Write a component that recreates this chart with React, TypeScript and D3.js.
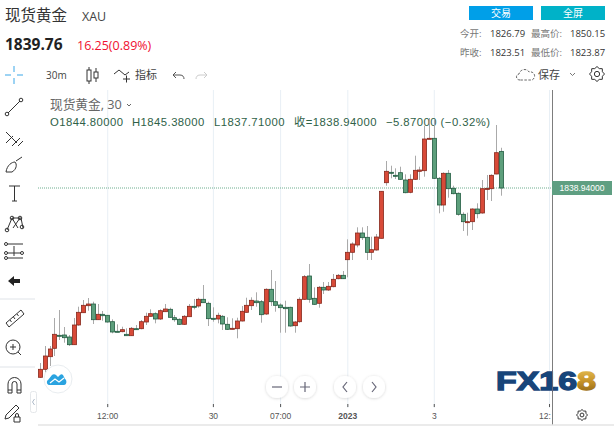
import React from "react";
import * as d3 from "d3";

const opens = [1808.65,1809.93,1811.95,1813.29,1815.37,1815.42,1815.1,1813.87,1817.02,1818.99,1820.11,1820.38,1817.87,1818.73,1818.57,1817.55,1816.01,1815.95,1815.53,1815.31,1816.43,1816.43,1817.5,1818.41,1818.83,1817.98,1819.15,1819.53,1818.19,1817.93,1817.13,1818.35,1820.01,1820.06,1821.13,1820.49,1818.09,1817.98,1818.41,1817.13,1816.33,1816.43,1817.66,1819.05,1820.11,1820.86,1820.75,1818.78,1822.73,1820.75,1820.22,1819.85,1819.85,1816.91,1817.55,1821.13,1824.86,1821.29,1820.49,1823.05,1822.62,1823.15,1824.43,1824.97,1827.47,1828.65,1829.82,1831.74,1831.05,1828.65,1829.02,1830.89,1839.79,1841.45,1840.97,1841.39,1840.22,1838.25,1840.33,1841.61,1841.71,1846.78,1846.89,1840.49,1836.22,1841.29,1838.89,1838.09,1834.73,1833.39,1833.55,1835.58,1834.94,1838.8,1838.83,1841.18,1844.8];
const highs = [1810.94,1813.66,1813.66,1818.14,1819.42,1816.7,1815.42,1818.14,1819.95,1821.02,1821.34,1820.75,1820.38,1819.26,1818.62,1817.93,1817.13,1816.75,1816.49,1816.7,1817.02,1817.82,1818.99,1819.53,1819.05,1819.53,1820.38,1819.79,1818.62,1818.09,1818.62,1820.38,1821.18,1821.39,1823.42,1820.75,1819.85,1818.99,1818.62,1818.25,1818.09,1818.19,1820.06,1821.39,1821.45,1822.25,1821.02,1822.89,1825.82,1824.06,1820.49,1820.91,1819.95,1817.66,1821.45,1825.02,1826.78,1823.05,1823.26,1823.9,1823.9,1825.18,1825.18,1825.66,1830.73,1830.25,1832.65,1832.65,1832.86,1831.15,1831.58,1838.46,1843.26,1842.51,1842.09,1842.35,1841.13,1841.13,1844.11,1842.35,1848.91,1850.14,1849.82,1840.7,1841.45,1841.82,1839.31,1838.25,1835.05,1834.99,1835.69,1836.49,1840.22,1841.02,1841.13,1849.02,1845.38];
const lows = [1808.54,1808.86,1810.46,1812.06,1814.62,1814.19,1813.66,1813.82,1816.9,1818.99,1819.31,1817.18,1817.82,1817.71,1817.39,1815.69,1815.88,1815.85,1815.29,1815.26,1816.31,1816.33,1817.02,1818.35,1817.29,1817.82,1819.15,1818.19,1817.55,1817.02,1817.02,1818.35,1819.53,1819.79,1820.59,1816.86,1817.55,1817.29,1816.22,1816.22,1816.33,1814.89,1817.58,1818.99,1819.42,1819.95,1817.39,1818.62,1820.06,1819.15,1815.79,1815.79,1816.75,1815.79,1817.39,1821.02,1820.59,1820.22,1819.79,1821.98,1822.46,1823.05,1824.33,1824.38,1824.65,1827.42,1829.45,1830.62,1827.42,1827.42,1828.91,1830.86,1839.31,1840.49,1840.38,1840.22,1838.09,1838.09,1840.22,1840.22,1840.75,1846.78,1840.38,1834.89,1835.15,1837.39,1837.93,1834.51,1832.06,1831.31,1832.22,1834.09,1834.83,1837.02,1836.86,1841.13,1837.71];
const closes = [1809.93,1812.06,1813.18,1815.53,1815.28,1814.99,1813.87,1817.02,1819.05,1820.17,1820.38,1817.87,1818.73,1818.51,1817.5,1815.9,1815.9,1816.27,1815.31,1816.49,1816.33,1817.55,1818.41,1818.83,1817.98,1819.31,1819.58,1818.25,1817.87,1817.13,1818.41,1820.01,1819.9,1821.13,1820.59,1818.03,1817.98,1818.57,1817.18,1816.33,1816.49,1817.66,1819.21,1820.17,1820.97,1820.59,1818.67,1822.73,1820.75,1820.17,1819.79,1819.63,1816.86,1817.5,1821.13,1824.75,1821.13,1820.33,1823.05,1822.62,1823.21,1824.33,1824.97,1824.43,1828.65,1829.98,1831.74,1830.99,1828.65,1829.07,1831.1,1838.41,1841.61,1841.34,1840.86,1840.33,1838.19,1840.33,1841.77,1841.82,1846.78,1846.89,1840.49,1836.22,1841.29,1838.83,1838.03,1834.73,1833.55,1833.55,1835.58,1834.83,1838.83,1838.88,1840.97,1844.59,1838.94];

const title = "现货黄金";
const symbol = "XAU";
const lastPrice = "1839.76";
const change = "16.25(0.89%)";
const statRows = [["今开:", "1826.79", "最高价:", "1850.15"], ["昨收:", "1823.51", "最低价:", "1823.87"]];
const tickIndex = [14, 36, 50, 64, 82, 106];
const tickLabels = ["12:00", "30", "07:00", "2023", "3", "12:"];
const legendOHLC = [["O1844.80000", 50], ["H1845.38000", 132], ["L1837.71000", 214], ["收=1838.94000", 294], ["−5.87000 (−0.32%)", 386]] as const;
const lastClose = 1838.94;

const x = d3.scaleLinear().domain([0, 96]).range([40, 501]);
const y = d3.scaleLinear().domain([1869.02, 1809.02]).range([0, 375]);

const W = 614, H = 427;
const sans = "'Liberation Sans','Noto Sans CJK SC',sans-serif";
const ui = "'Open Sans','Noto Sans CJK SC',sans-serif";
const upFill = "#d84a38", upLine = "#87281c", dnFill = "#5d9f7c", dnLine = "#235c42";
const ink = "#333";

const Btn = ({ cx, children }: { cx: number; children: React.ReactNode }) => (
  <g transform={`translate(${cx},387)`}>
    <circle r={11} fill="#fff" filter="url(#sh)" />
    {children}
  </g>
);

const Gear = ({ cx, cy, r }: { cx: number; cy: number; r: number }) => {
  const pts = d3.range(16).map((i) => {
    const a = (i / 16) * 2 * Math.PI;
    const rr = i % 2 === 0 ? r : r * 0.78;
    return [cx + rr * Math.cos(a), cy + rr * Math.sin(a)] as [number, number];
  });
  return (
    <g fill="none" stroke={ink} strokeWidth={1}>
      <path d={d3.line().curve(d3.curveLinearClosed)(pts) as string} />
      <circle cx={cx} cy={cy} r={r * 0.35} />
    </g>
  );
};

export default function App() {
  const candles = opens.map((o, i) => ({ o, h: highs[i], l: lows[i], c: closes[i], i }));
  return (
    <svg width={W} height={H} style={{ position: "absolute", left: 0, top: 0, background: "#fff" }} fontFamily={sans}>
      <defs>
        <filter id="sh" x="-40%" y="-40%" width="180%" height="180%">
          <feDropShadow dx="0" dy="0.5" stdDeviation="1.5" floodColor="#000" floodOpacity="0.18" />
        </filter>
        <linearGradient id="gold" x1="0" y1="0" x2="0" y2="1">
          <stop offset="0" stopColor="#e8c35a" />
          <stop offset="0.5" stopColor="#c9962c" />
          <stop offset="1" stopColor="#8c6212" />
        </linearGradient>
      </defs>

      {/* header */}
      <text x={5} y={21} fontSize={15.5} fill="#333" fontFamily={ui}>{title}</text>
      <text x={82} y={21} fontSize={12.5} fill="#444" fontFamily={ui}>{symbol}</text>
      <text x={5} y={50} fontSize={15.5} fontWeight={700} fill="#222" fontFamily={ui}>{lastPrice}</text>
      <text x={77} y={50} fontSize={12.5} fill="#f01030" fontFamily={ui}>{change}</text>

      <rect x={469} y={6} width={64} height={14} fill="#009fe8" />
      <rect x={541} y={6} width={64} height={14} fill="#00b2c8" />
      <text x={501} y={17} fontSize={10} fill="#fff" textAnchor="middle" fontFamily={ui}>交易</text>
      <text x={573} y={17} fontSize={10} fill="#fff" textAnchor="middle" fontFamily={ui}>全屏</text>
      {statRows.map((r, k) => (
        <g key={k} fontSize={9.5} fontFamily={ui}>
          <text x={460} y={37 + k * 19} fill="#777">{r[0]}</text>
          <text x={490} y={37 + k * 19} fill="#333">{r[1]}</text>
          <text x={531} y={37 + k * 19} fill="#777">{r[2]}</text>
          <text x={570} y={37 + k * 19} fill="#333">{r[3]}</text>
        </g>
      ))}

      {/* top toolbar */}
      <text x={46} y={79} fontSize={10} fill="#444" fontFamily={ui}>30m</text>
      <g stroke="#333" fill="none" strokeWidth={1}>
        <rect x={87} y={70} width={4} height={11} />
        <line x1={89} y1={67} x2={89} y2={70} /><line x1={89} y1={81} x2={89} y2={84} />
        <rect x={94} y={72} width={4} height={6} />
        <line x1={96} y1={68} x2={96} y2={72} /><line x1={96} y1={78} x2={96} y2={82} />
        <path d="M114 74l5-4 6 5 4-3" />
        <path d="M123 79h7M126.500 75.500v7" />
      </g>
      <text x={135} y={79} fontSize={11} fill="#444" fontFamily={ui}>指标</text>
      <path d="M176 72l-3 3 3 3M173 75h7c3 0 4 2 4 4" fill="none" stroke="#555" strokeWidth={1} />
      <path d="M204 72l3 3-3 3M207 75h-7c-3 0-4 2-4 4" fill="none" stroke="#ccc" strokeWidth={1} />
      <path d="M520 80c-4 0-5-5-1-6 1-5 8-6 10-2 4-1 7 3 5 6-1 2-2 2-3 2z" fill="none" stroke="#555" strokeWidth={0.9} strokeDasharray="2.5 1.5" />
      <text x={538} y={79} fontSize={11} fill="#444" fontFamily={ui}>保存</text>
      <path d="M570 73l2.500 2.500 2.500-2.500" fill="none" stroke="#555" strokeWidth={0.8} />
      <Gear cx={597} cy={74} r={7.5} />

      {/* grid */}
      {tickIndex.map((t) => (
        <line key={t} x1={x(t) + 0.5} x2={x(t) + 0.5} y1={90} y2={408} stroke="#e8eff5" strokeWidth={1} />
      ))}
      <line x1={38} x2={552} y1={y(lastClose)} y2={y(lastClose)} stroke="#6fae90" strokeWidth={1} strokeDasharray="1 1" />

      {/* legend */}
      <text x={50} y={109} fontSize={12.700} fill="#666" fontFamily={ui}>{title}, 30</text>
      <path d="M127 104l2 2 2-2" fill="none" stroke="#555" strokeWidth={0.9} />
      {legendOHLC.map(([t, px]) => (
        <text key={t} x={px} y={126} fontSize={11.300} fill="#2f6148" letterSpacing={0.45} fontFamily={sans}>{t}</text>
      ))}

      {/* candles */}
      {candles.map((d) => {
        const up = d.c >= d.o;
        const top = y(Math.max(d.o, d.c));
        const bot = y(Math.min(d.o, d.c));
        const cx = Math.round(x(d.i));
        return (
          <g key={d.i}>
            <line x1={cx + 0.5} x2={cx + 0.5} y1={y(d.h)} y2={y(d.l)} stroke="#aaa" strokeWidth={1} />
            <rect x={cx - 1.5} y={top} width={4} height={Math.max(bot - top, 1)} fill={up ? upFill : dnFill} stroke={up ? upLine : dnLine} strokeWidth={0.8} />
          </g>
        );
      })}

      {/* axis line and price tag */}
      <line x1={552.5} x2={552.5} y1={90} y2={425} stroke="#7d7d7d" strokeWidth={1} />
      <rect x={552} y={y(lastClose) - 7} width={60} height={14} fill="#5f9f82" />
      <text x={582} y={y(lastClose) + 3} fontSize={8.500} fill="#fff" textAnchor="middle">1838.94000</text>

      {/* x axis */}
      {tickIndex.map((t, k) => (
        <g key={t}>
          <line x1={x(t) + 0.5} x2={x(t) + 0.5} y1={404} y2={407} stroke="#555" strokeWidth={1} />
          <text x={k === 5 ? 545 : x(t) + 0.5} y={419} fontSize={8.500} fill="#555" fontWeight={tickLabels[k] === "2023" ? 700 : 400} textAnchor="middle">{tickLabels[k]}</text>
        </g>
      ))}
      <Gear cx={582} cy={415} r={5.500} />
      <line x1={38} x2={614} y1={425} y2={425} stroke="#e4e4e4" strokeWidth={1.500} />

      {/* zoom / scroll buttons */}
      <Btn cx={277}><path d="M-5 0h10" stroke="#667" strokeWidth={1.2} /></Btn>
      <Btn cx={305}><path d="M-5 0h10M0-5v10" stroke="#667" strokeWidth={1.2} /></Btn>
      <Btn cx={345}><path d="M2-5l-4 5 4 5" fill="none" stroke="#667" strokeWidth={1.2} /></Btn>
      <Btn cx={374}><path d="M-2-5l4 5-4 5" fill="none" stroke="#667" strokeWidth={1.2} /></Btn>

      {/* watermark */}
      <text x={496} y={389.500} fontSize={25} fontWeight={700} fill="#17457a" stroke="#17457a" strokeWidth={1.3} textLength={81} lengthAdjust="spacingAndGlyphs" fontFamily={sans}>FX16</text>
      <text x={577} y={389.500} fontSize={25} fontWeight={700} fill="url(#gold)" stroke="url(#gold)" strokeWidth={1.3} textLength={19} lengthAdjust="spacingAndGlyphs" fontFamily={sans}>8</text>
      <line x1={552.5} x2={552.5} y1={370} y2={392} stroke="#667" strokeWidth={1} />

      {/* logo badge */}
      <circle cx={58} cy={379} r={14} fill="#fff" stroke="#e9edf0" strokeWidth={1} />
      <path d="M49 385c-2 0-3-4-1-5l4-5c1-1 3-1 4 0l2 2 2-2c1-1 2-1 3 0l2 4c2 1 2 6-1 6z" fill="#2aa3e0" />
      <path d="M50 383l5-4 4 3 5-4" fill="none" stroke="#fff" strokeWidth={1.300} />

      {/* left toolbar */}
      <g fill="none" stroke={ink} strokeWidth={1}>
        <path d="M5 75h6M17 75h6M14 66v6M14 78v6" stroke="#3aa7e8" />
        <path d="M8 113L20 101" /><circle cx={7} cy={114} r={1.800} /><circle cx={21} cy={100} r={1.800} />
        <path d="M6 143l7-7M12 146l8-8M18 146l5-5M6 132l3 3 8 8" />
        <path d="M6 172c1-7 6-10 9-10 2 2 2 7-3 10zM16 161l6-4" />
        <path d="M9 186h11M14.500 186v15M12 201h5" />
        <path d="M7 230l5-12 9 0 2 10M12 218l6 10M20 218l-7 10" />
        <circle cx={12} cy={218} r={1.800} /><circle cx={20} cy={218} r={1.800} /><circle cx={7} cy={230} r={1.800} /><circle cx={22} cy={227} r={1.800} />
        <path d="M7 244h16M7 253h14M7 258h16M14 246v10" />
        <circle cx={6} cy={244} r={1.500} /><circle cx={6} cy={253} r={1.500} /><circle cx={22} cy={253} r={1.500} /><circle cx={6} cy={258} r={1.500} />
        <path d="M6 323l15-13 3 4-15 13zM10 320l1.500 2M13.500 317l1.500 2M17 314l1.500 2" />
        <circle cx={13} cy={347} r={7} /><path d="M18 352l3 3M10 347h6M13 344v6" />
        <path d="M8 393v-9a6.500 6.500 0 0 1 13 0v9h-4v-9a2.500 2.500 0 0 0-5 0v9zM8 390h4M17 390h4" />
        <path d="M6 415l10-10 3 3-10 10-4 1zM14 417h6v5h-6zM15.500 417v-2a1.500 1.500 0 0 1 3 0v2" />
      </g>
      <path d="M8 281l6-5v3h6v4h-6v3z" fill="#222" />
      <line x1={0} x2={35} y1={299} y2={299} stroke="#dfe3e8" />
      <line x1={0} x2={35} y1={367} y2={367} stroke="#dfe3e8" />
      <rect x={30.500} y={391.500} width={6} height={21} rx={2} fill="#fff" stroke="#e4e7ea" />
      <path d="M34.500 399l-2 3 2 3" fill="none" stroke="#9ab" strokeWidth={0.8} />
    </svg>
  );
}
